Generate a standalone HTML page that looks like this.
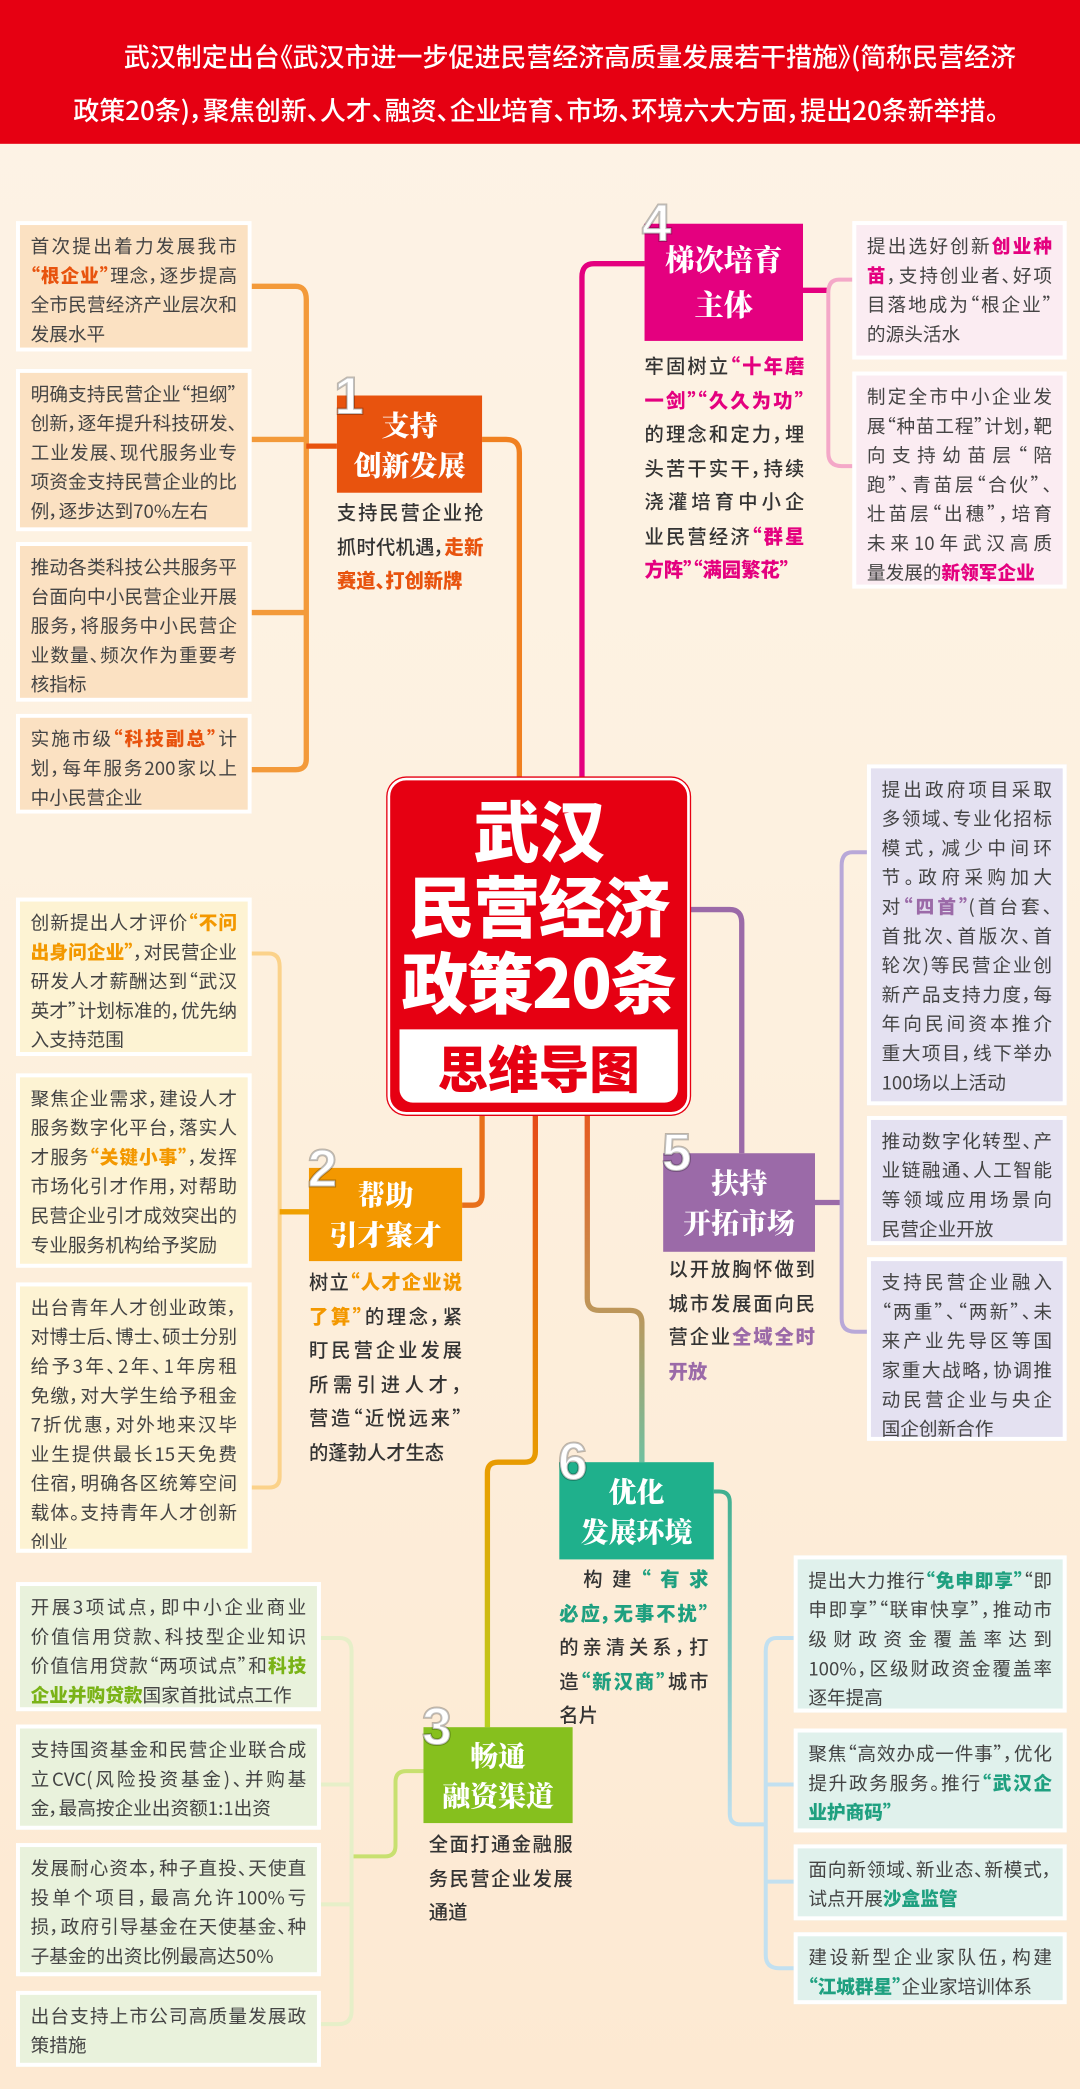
<!DOCTYPE html>
<html><head><meta charset="utf-8"><style>
*{margin:0;padding:0;box-sizing:border-box}
html,body{width:1080px;height:2089px;overflow:hidden}
#w{width:811px;height:1569px;transform:scale(1.33169);transform-origin:0 0;position:relative;background:linear-gradient(#fdf3e6 0%,#fdf1e0 40%,#fde9d2 100%);font-family:"Noto Sans CJK SC","Liberation Sans",sans-serif;font-feature-settings:"palt";color:#333}
.hd{position:absolute;left:0;top:0;width:811px;height:108px;background:#e60012;color:#fff;font-size:19.5px;line-height:40px;font-weight:500;white-space:nowrap}
.b{position:absolute;font-size:14px;line-height:22px;padding:5px 8px;border:3px solid #fff;color:#444;overflow:hidden}
.b p,.d p{white-space:nowrap;text-align:justify;text-align-last:justify}
.b p.e,.d p.e{text-align-last:left}
.o{background:#fbe1c2}.p{background:#fbecf2}.v{background:#e4e1f1}.y{background:#fdf3d3}.g{background:#e9f2dc}.t{background:#e0f1ec}
.n{position:absolute;color:#fff;font-family:"Noto Serif CJK SC",serif;font-weight:900;font-size:21px;line-height:30px;text-align:center;display:flex;flex-direction:column;justify-content:center}
.num{position:absolute;color:#fff;font-size:40px;font-weight:700;line-height:40px;font-family:"Liberation Sans",sans-serif;-webkit-text-stroke:1.5px rgba(0,0,0,.25)}
.d{position:absolute;font-size:14.5px;line-height:25.5px;color:#333;font-weight:500}
b{font-weight:900}
</style></head><body><div id="w">
<div class="hd"><div style="position:absolute;left:93px;top:22px">武汉制定出台《武汉市进一步促进民营经济高质量发展若干措施》(简称民营经济</div><div style="position:absolute;left:55px;top:62px">政策20条)，聚焦创新、人才、融资、企业培育、市场、环境六大方面，提出20条新举措。</div></div>

<svg style="position:absolute;left:0;top:0" width="811" height="1569" fill="none" stroke-width="4">
<defs>
<linearGradient id="gr" x1="0" y1="0" x2="0" y2="1"><stop offset="0" stop-color="#e64a19"/><stop offset=".6" stop-color="#e8a000"/><stop offset="1" stop-color="#b8d020"/></linearGradient>
<linearGradient id="gb" x1="0" y1="0" x2="0" y2="1"><stop offset="0" stop-color="#e65a20"/><stop offset=".5" stop-color="#c89050"/><stop offset="1" stop-color="#70c0a0"/></linearGradient>
<linearGradient id="gt" x1="0" y1="0" x2="0" y2="1"><stop offset="0" stop-color="#40b090"/><stop offset="1" stop-color="#c0e0f0"/></linearGradient>
</defs>
<g stroke="#f39a3a"><path d="M188 215H222Q230 215 230 225V570Q230 578 222 578H188"/><path d="M188 330H230M188 460H230"/><path d="M230 335H253" stroke="#e8530e"/><path d="M362 330H380Q390 330 390 340V585" stroke="#f08020"/></g>
<g stroke="#e4007f"><path d="M484 198H446Q437 198 437 208V585"/><path d="M603 218H622" /><path d="M641 210H630Q622 210 622 220V340Q622 350 632 350H641" stroke="#f4a8c8" stroke-width="3"/></g>
<g stroke="#9b6aa8"><path d="M518 683H548Q557 683 557 693V866"/><path d="M612 903H632"/><path d="M652 640H640Q632 640 632 650V990Q632 1000 642 1000H652" stroke="#b8a8d8" stroke-width="3"/></g>
<g stroke="#f0a000"><path d="M347 905H355Q362 905 362 897V837" stroke="#e8701a"/><path d="M188 716H202Q210 716 210 726V1109Q210 1117 202 1117H188" stroke="#fbd28a" stroke-width="3"/><path d="M210 910H232"/></g>
<path d="M402 837V1090Q402 1098 394 1098H374Q366 1098 366 1106V1297" stroke="url(#gr)"/>
<path d="M441 837V975Q441 984 450 984H473Q482 984 482 993V1098" stroke="url(#gb)"/>
<path d="M536 1120H540Q548 1120 548 1128V1362Q548 1370 556 1370H575" stroke="url(#gt)" stroke-width="3"/>
<path d="M597 1230H583Q575 1230 575 1240V1468Q575 1478 585 1478H597M575 1340H597M575 1413H597" stroke="#c2e0f0" stroke-width="3"/>
<path d="M318 1330H305Q297 1330 297 1338V1386Q297 1394 289 1394H264" stroke="#c8e070" stroke-width="3"/>
<path d="M240 1230H255Q264 1230 264 1240V1510Q264 1520 254 1520H240M240 1340H264M240 1430H264" stroke="#e6efc8" stroke-width="3"/>
</svg>

<div class="b o" style="left:12px;top:166px;width:177px;height:98px"><p>首次提出着力发展我市</p><p><b style="color:#e8530e">“根企业”</b>理念，逐步提高</p><p>全市民营经济产业层次和</p><p class="e">发展水平</p></div>
<div class="b o" style="left:12px;top:277px;width:177px;height:122px"><p>明确支持民营企业“担纲”</p><p>创新，逐年提升科技研发、</p><p>工业发展、现代服务业专</p><p>项资金支持民营企业的比</p><p class="e">例，逐步达到70%左右</p></div>
<div class="b o" style="left:12px;top:407px;width:177px;height:120px"><p>推动各类科技公共服务平</p><p>台面向中小民营企业开展</p><p>服务，将服务中小民营企</p><p>业数量、频次作为重要考</p><p class="e">核指标</p></div>
<div class="b o" style="left:12px;top:536px;width:177px;height:75px"><p>实施市级<b style="color:#e8530e">“科技副总”</b>计</p><p>划，每年服务200家以上</p><p class="e">中小民营企业</p></div>

<div class="n" style="left:253px;top:297px;width:109px;height:73px;background:#e8530e">支持<br>创新发展</div><div class="num" style="left:251px;top:278px">1</div>
<div class="d" style="left:253px;top:372px;width:110px"><p>支持民营企业抢</p><p>抓时代机遇，<b style="color:#e8530e">走新</b></p><p class="e"><b style="color:#e8530e">赛道、打创新牌</b></p></div>

<div class="n" style="left:484px;top:168px;width:119px;height:88px;background:#e4007f;font-size:22px;line-height:34px">梯次培育<br>主体</div><div class="num" style="left:482px;top:148px">4</div>
<div class="d" style="left:484px;top:262px;width:120px"><p>牢固树立<b style="color:#e4007f">“十年磨</b></p><p><b style="color:#e4007f">一剑”“久久为功”</b></p><p>的理念和定力，埋</p><p>头苦干实干，持续</p><p>浇灌培育中小企</p><p>业民营经济<b style="color:#e4007f">“群星</b></p><p class="e"><b style="color:#e4007f">方阵”“满园繁花”</b></p></div>

<div class="b p" style="left:640px;top:166px;width:161px;height:104px"><p>提出选好创新<b style="color:#e4007f">创业种</b></p><p><b style="color:#e4007f">苗</b>，支持创业者、好项</p><p>目落地成为“根企业”</p><p class="e">的源头活水</p></div>
<div class="b p" style="left:640px;top:279px;width:161px;height:163px"><p>制定全市中小企业发</p><p>展“种苗工程”计划，靶</p><p>向支持幼苗层“陪</p><p>跑”、青苗层“合伙”、</p><p>壮苗层“出穗”，培育</p><p>未来10年武汉高质</p><p class="e">量发展的<b style="color:#e4007f">新领军企业</b></p></div>

<div style="position:absolute;left:291px;top:584px;width:227px;height:253px;background:#e60012;border-radius:14px;border:2px solid #fff;box-shadow:0 0 0 1px #e60012"></div>
<div style="position:absolute;left:291px;top:594px;width:227px;text-align:center;color:#fff;font-family:'Noto Sans CJK SC',sans-serif;font-weight:900;font-size:50px;line-height:57px;letter-spacing:-1px">武汉<br>民营经济<br>政策20条</div>
<div style="position:absolute;left:300px;top:773px;width:209px;height:55px;background:#fff;border-radius:0 0 10px 10px;color:#e60012;font-family:'Noto Sans CJK SC',sans-serif;font-weight:900;font-size:38px;line-height:55px;text-align:center">思维导图</div>

<div class="b v" style="left:651px;top:574px;width:150px;height:256px"><p>提出政府项目采取</p><p>多领域、专业化招标</p><p>模式，减少中间环</p><p>节。政府采购加大</p><p>对<b style="color:#9b6aa8">“四首”</b>(首台套、</p><p>首批次、首版次、首</p><p>轮次)等民营企业创</p><p>新产品支持力度，每</p><p>年向民间资本推介</p><p>重大项目，线下举办</p><p class="e">100场以上活动</p></div>
<div class="b v" style="left:651px;top:838px;width:150px;height:97px"><p>推动数字化转型、产</p><p>业链融通、人工智能</p><p>等领域应用场景向</p><p class="e">民营企业开放</p></div>
<div class="b v" style="left:651px;top:944px;width:150px;height:138px"><p>支持民营企业融入</p><p>“两重”、“两新”、未</p><p>来产业先导区等国</p><p>家重大战略，协调推</p><p>动民营企业与央企</p><p class="e">国企创新合作</p></div>

<div class="n" style="left:498px;top:866px;width:114px;height:74px;background:#9b6aa8">扶持<br>开拓市场</div><div class="num" style="left:497px;top:846px">5</div>
<div class="d" style="left:502px;top:940px;width:110px"><p>以开放胸怀做到</p><p>城市发展面向民</p><p>营企业<b style="color:#9b6aa8">全域全时</b></p><p class="e"><b style="color:#9b6aa8">开放</b></p></div>

<div class="b y" style="left:12px;top:674px;width:177px;height:119px"><p>创新提出人才评价<b style="color:#f39800">“不问</b></p><p><b style="color:#f39800">出身问企业”</b>，对民营企业</p><p>研发人才薪酬达到“武汉</p><p>英才”计划标准的，优先纳</p><p class="e">入支持范围</p></div>
<div class="b y" style="left:12px;top:806px;width:177px;height:146px"><p>聚焦企业需求，建设人才</p><p>服务数字化平台，落实人</p><p>才服务<b style="color:#f39800">“关键小事”</b>，发挥</p><p>市场化引才作用，对帮助</p><p>民营企业引才成效突出的</p><p class="e">专业服务机构给予奖励</p></div>
<div class="b y" style="left:12px;top:963px;width:177px;height:203px"><p>出台青年人才创业政策，</p><p>对博士后、博士、硕士分别</p><p>给予3年、2年、1年房租</p><p>免缴，对大学生给予租金</p><p>7折优惠，对外地来汉毕</p><p>业生提供最长15天免费</p><p>住宿，明确各区统筹空间</p><p>载体。支持青年人才创新</p><p class="e">创业</p></div>

<div class="n" style="left:232px;top:877px;width:115px;height:70px;background:#f39800">帮助<br>引才聚才</div><div class="num" style="left:231px;top:858px">2</div>
<div class="d" style="left:232px;top:950px;width:115px"><p>树立<b style="color:#f39800">“人才企业说</b></p><p><b style="color:#f39800">了算”</b>的理念，紧</p><p>盯民营企业发展</p><p>所需引进人才，</p><p>营造“近悦远来”</p><p class="e">的蓬勃人才生态</p></div>

<div class="n" style="left:420px;top:1098px;width:116px;height:73px;background:#1fb08c">优化<br>发展环境</div><div class="num" style="left:419px;top:1078px">6</div>
<div class="d" style="left:420px;top:1173px;width:112px"><p style="padding-left:18px">构建<b style="color:#1fa080">“有求</b></p><p><b style="color:#1fa080">必应，无事不扰”</b></p><p>的亲清关系，打</p><p>造<b style="color:#1fa080">“新汉商”</b>城市</p><p class="e">名片</p></div>

<div class="b t" style="left:596px;top:1168px;width:205px;height:118px"><p>提出大力推行<b style="color:#1fa080">“免申即享”</b>“即</p><p>申即享”“联审快享”，推动市</p><p>级财政资金覆盖率达到</p><p>100%，区级财政资金覆盖率</p><p class="e">逐年提高</p></div>
<div class="b t" style="left:596px;top:1298px;width:205px;height:78px"><p>聚焦“高效办成一件事”，优化</p><p>提升政务服务。推行<b style="color:#1fa080">“武汉企</b></p><p class="e"><b style="color:#1fa080">业护商码”</b></p></div>
<div class="b t" style="left:596px;top:1385px;width:205px;height:57px"><p>面向新领域、新业态、新模式，</p><p class="e">试点开展<b style="color:#1fa080">沙盒监管</b></p></div>
<div class="b t" style="left:596px;top:1451px;width:205px;height:54px"><p>建设新型企业家队伍，构建</p><p class="e"><b style="color:#1fa080">“江城群星”</b>企业家培训体系</p></div>

<div class="n" style="left:318px;top:1297px;width:112px;height:72px;background:#86c01e">畅通<br>融资渠道</div><div class="num" style="left:317px;top:1277px">3</div>
<div class="d" style="left:322px;top:1372px;width:108px"><p>全面打通金融服</p><p>务民营企业发展</p><p class="e">通道</p></div>

<div class="b g" style="left:12px;top:1188px;width:229px;height:97px"><p>开展3项试点，即中小企业商业</p><p>价值信用贷款、科技型企业知识</p><p>价值信用贷款“两项试点”和<b style="color:#7ab317">科技</b></p><p class="e"><b style="color:#7ab317">企业并购贷款</b>国家首批试点工作</p></div>
<div class="b g" style="left:12px;top:1295px;width:229px;height:79px"><p>支持国资基金和民营企业联合成</p><p>立CVC(风险投资基金)、并购基</p><p class="e">金，最高按企业出资额1:1出资</p></div>
<div class="b g" style="left:12px;top:1384px;width:229px;height:100px"><p>发展耐心资本，种子直投、天使直</p><p>投单个项目，最高允许100%亏</p><p>损，政府引导基金在天使基金、种</p><p class="e">子基金的出资比例最高达50%</p></div>
<div class="b g" style="left:12px;top:1495px;width:229px;height:57px"><p>出台支持上市公司高质量发展政</p><p class="e">策措施</p></div>
</div></body></html>
